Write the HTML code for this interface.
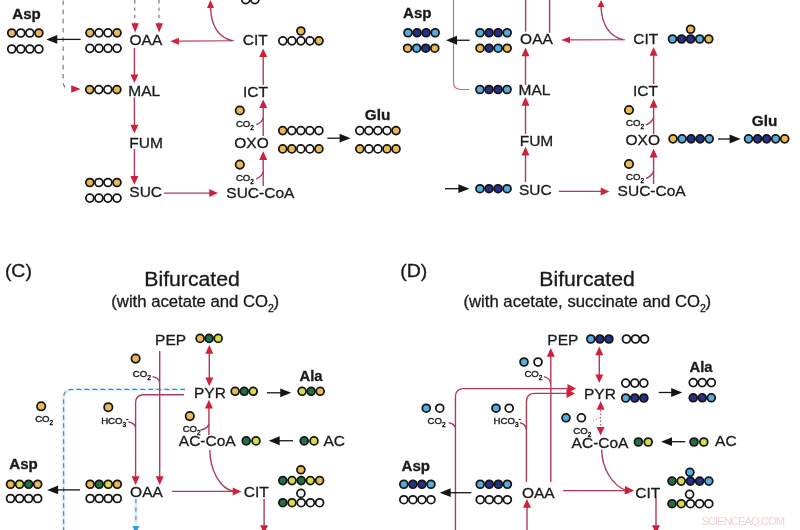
<!DOCTYPE html>
<html><head><meta charset="utf-8"><style>
html,body{margin:0;padding:0;background:#fff;width:800px;height:530px;overflow:hidden}
svg{display:block;will-change:transform;font-family:"Liberation Sans",sans-serif}
text{stroke:#1a1a1a;stroke-width:0.3px}
</style></head><body>
<svg width="800" height="530" viewBox="0 0 800 530">
<g stroke="#151515" stroke-width="1.75">
<circle cx="245.80" cy="-0.30" r="3.95" fill="#FFFFFF"/>
<circle cx="254.85" cy="-0.30" r="3.95" fill="#FFFFFF"/>
<circle cx="11.73" cy="33.00" r="3.95" fill="#E9B955"/>
<circle cx="20.78" cy="33.00" r="3.95" fill="#FFFFFF"/>
<circle cx="29.83" cy="33.00" r="3.95" fill="#FFFFFF"/>
<circle cx="38.88" cy="33.00" r="3.95" fill="#E9B955"/>
<circle cx="11.73" cy="49.00" r="3.95" fill="#FFFFFF"/>
<circle cx="20.78" cy="49.00" r="3.95" fill="#FFFFFF"/>
<circle cx="29.83" cy="49.00" r="3.95" fill="#FFFFFF"/>
<circle cx="38.88" cy="49.00" r="3.95" fill="#FFFFFF"/>
<circle cx="89.92" cy="32.80" r="3.95" fill="#E9B955"/>
<circle cx="98.97" cy="32.80" r="3.95" fill="#FFFFFF"/>
<circle cx="108.03" cy="32.80" r="3.95" fill="#FFFFFF"/>
<circle cx="117.08" cy="32.80" r="3.95" fill="#E9B955"/>
<circle cx="89.92" cy="48.30" r="3.95" fill="#FFFFFF"/>
<circle cx="98.97" cy="48.30" r="3.95" fill="#FFFFFF"/>
<circle cx="108.03" cy="48.30" r="3.95" fill="#FFFFFF"/>
<circle cx="117.08" cy="48.30" r="3.95" fill="#FFFFFF"/>
<circle cx="89.73" cy="89.60" r="3.95" fill="#E9B955"/>
<circle cx="98.78" cy="89.60" r="3.95" fill="#FFFFFF"/>
<circle cx="107.83" cy="89.60" r="3.95" fill="#FFFFFF"/>
<circle cx="116.88" cy="89.60" r="3.95" fill="#E9B955"/>
<circle cx="89.83" cy="182.50" r="3.95" fill="#E9B955"/>
<circle cx="98.88" cy="182.50" r="3.95" fill="#FFFFFF"/>
<circle cx="107.93" cy="182.50" r="3.95" fill="#FFFFFF"/>
<circle cx="116.98" cy="182.50" r="3.95" fill="#E9B955"/>
<circle cx="89.83" cy="198.10" r="3.95" fill="#FFFFFF"/>
<circle cx="98.88" cy="198.10" r="3.95" fill="#FFFFFF"/>
<circle cx="107.93" cy="198.10" r="3.95" fill="#FFFFFF"/>
<circle cx="116.98" cy="198.10" r="3.95" fill="#FFFFFF"/>
<circle cx="282.82" cy="40.80" r="3.95" fill="#FFFFFF"/>
<circle cx="291.88" cy="40.80" r="3.95" fill="#FFFFFF"/>
<circle cx="300.93" cy="40.80" r="3.95" fill="#FFFFFF"/>
<circle cx="309.97" cy="40.80" r="3.95" fill="#FFFFFF"/>
<circle cx="319.02" cy="40.80" r="3.95" fill="#E9B955"/>
<circle cx="300.90" cy="31.00" r="3.95" fill="#E9B955"/>
<circle cx="282.72" cy="130.60" r="3.95" fill="#E9B955"/>
<circle cx="291.77" cy="130.60" r="3.95" fill="#FFFFFF"/>
<circle cx="300.82" cy="130.60" r="3.95" fill="#FFFFFF"/>
<circle cx="309.87" cy="130.60" r="3.95" fill="#FFFFFF"/>
<circle cx="318.92" cy="130.60" r="3.95" fill="#FFFFFF"/>
<circle cx="282.72" cy="148.90" r="3.95" fill="#E9B955"/>
<circle cx="291.77" cy="148.90" r="3.95" fill="#E9B955"/>
<circle cx="300.82" cy="148.90" r="3.95" fill="#FFFFFF"/>
<circle cx="309.87" cy="148.90" r="3.95" fill="#FFFFFF"/>
<circle cx="318.92" cy="148.90" r="3.95" fill="#E9B955"/>
<circle cx="359.82" cy="130.60" r="3.95" fill="#FFFFFF"/>
<circle cx="368.88" cy="130.60" r="3.95" fill="#FFFFFF"/>
<circle cx="377.93" cy="130.60" r="3.95" fill="#FFFFFF"/>
<circle cx="386.97" cy="130.60" r="3.95" fill="#FFFFFF"/>
<circle cx="396.02" cy="130.60" r="3.95" fill="#E9B955"/>
<circle cx="359.82" cy="148.90" r="3.95" fill="#E9B955"/>
<circle cx="368.88" cy="148.90" r="3.95" fill="#FFFFFF"/>
<circle cx="377.93" cy="148.90" r="3.95" fill="#FFFFFF"/>
<circle cx="386.97" cy="148.90" r="3.95" fill="#E9B955"/>
<circle cx="396.02" cy="148.90" r="3.95" fill="#E9B955"/>
<circle cx="239.80" cy="110.50" r="4.2" fill="#E9B955"/>
<circle cx="239.80" cy="164.60" r="4.2" fill="#E9B955"/>
</g>
<text x="12.30" y="18.8" font-size="14.5" font-weight="bold" textLength="28.5" lengthAdjust="spacingAndGlyphs" fill="#1a1a1a">Asp</text>
<text x="364.80" y="119.8" font-size="14.5" font-weight="bold" textLength="25.5" lengthAdjust="spacingAndGlyphs" fill="#1a1a1a">Glu</text>
<text x="129.50" y="45.4" font-size="15.5" fill="#1a1a1a">OAA</text>
<text x="128.30" y="95.6" font-size="15.5" fill="#1a1a1a">MAL</text>
<text x="129.30" y="147.5" font-size="15.5" fill="#1a1a1a">FUM</text>
<text x="129.30" y="196.9" font-size="15.5" fill="#1a1a1a">SUC</text>
<text x="242.80" y="45.2" font-size="15.5" fill="#1a1a1a">CIT</text>
<text x="243.05" y="97" font-size="15.5" fill="#1a1a1a">ICT</text>
<text x="234.30" y="147.5" font-size="15.5" fill="#1a1a1a">OXO</text>
<text x="226.30" y="197.5" font-size="15.5" fill="#1a1a1a">SUC-CoA</text>
<text x="235.9" y="126.6" font-size="9.6" fill="#222" style="stroke-width:0.4px">CO<tspan font-size="6.5" dy="3">2</tspan></text>
<text x="235.9" y="180.6" font-size="9.6" fill="#222" style="stroke-width:0.4px">CO<tspan font-size="6.5" dy="3">2</tspan></text>
<line x1="134.8" y1="0" x2="134.8" y2="24" stroke="#7A6670" stroke-width="1.1" stroke-dasharray="3.4,4"/>
<polygon points="135.10,32.40 131.30,23.20 138.90,23.20" fill="#D0203A"/>
<line x1="159" y1="0" x2="159" y2="24" stroke="#7A6670" stroke-width="1.1" stroke-dasharray="3.4,4"/>
<polygon points="159.20,32.40 155.40,23.20 163.00,23.20" fill="#D0203A"/>
<path d="M63.1,0.4 L63.1,82 Q63.5,88 68.5,89" fill="none" stroke="#7A6670" stroke-width="1.1" stroke-dasharray="4.6,4.6"/>
<polygon points="80.60,89.00 71.20,92.75 71.20,85.25" fill="#D0203A"/>
<line x1="134.4" y1="47.9" x2="134.4" y2="77.00999999999999" stroke="#B03C58" stroke-width="1.4"/>
<polygon points="134.40,83.10 130.40,74.40 138.40,74.40" fill="#D0203A"/>
<line x1="134.4" y1="97.5" x2="134.4" y2="127.41" stroke="#B03C58" stroke-width="1.4"/>
<polygon points="134.40,133.50 130.40,124.80 138.40,124.80" fill="#D0203A"/>
<line x1="134.4" y1="149" x2="134.4" y2="178.66" stroke="#B03C58" stroke-width="1.4"/>
<polygon points="134.40,184.75 130.40,176.05 138.40,176.05" fill="#D0203A"/>
<line x1="164" y1="193.1" x2="211.91" y2="193.1" stroke="#B03C58" stroke-width="1.4"/>
<polygon points="218.00,193.10 209.30,197.10 209.30,189.10" fill="#D0203A"/>
<line x1="263.2" y1="186" x2="263.2" y2="157.34" stroke="#B03C58" stroke-width="1.4"/>
<polygon points="263.20,151.25 267.20,159.95 259.20,159.95" fill="#D0203A"/>
<line x1="263.2" y1="136" x2="263.2" y2="105.49000000000001" stroke="#B03C58" stroke-width="1.4"/>
<polygon points="263.20,99.40 267.20,108.10 259.20,108.10" fill="#D0203A"/>
<line x1="263.2" y1="85" x2="263.2" y2="54.489999999999995" stroke="#B03C58" stroke-width="1.4"/>
<polygon points="263.20,48.40 267.20,57.10 259.20,57.10" fill="#D0203A"/>
<line x1="234.1" y1="40.8" x2="176.28988068561685" y2="41.1618786811542" stroke="#B03C58" stroke-width="1.1"/>
<polygon points="170.20,41.20 178.88,37.65 178.92,44.65" fill="#D0203A"/>
<path d="M232,40.8 C218,37 211,25 210.5,7" fill="none" stroke="#B03C58" stroke-width="1.4"/>
<polygon points="210.50,0.00 214.00,8.00 207.00,8.00" fill="#D0203A"/>
<path d="M256.3,124.7 Q262.5,122 263.2,117.5" fill="none" stroke="#B03C58" stroke-width="1.4"/>
<path d="M256.3,179 Q262.5,176 263.2,171.5" fill="none" stroke="#B03C58" stroke-width="1.4"/>
<line x1="327.3" y1="138.2" x2="342.90000000000003" y2="138.2" stroke="#151515" stroke-width="1.3"/>
<polygon points="350.60,138.20 339.60,142.60 339.60,133.80" fill="#151515"/>
<line x1="80.6" y1="39.4" x2="53.95" y2="39.4" stroke="#151515" stroke-width="1.3"/>
<polygon points="46.25,39.40 57.25,35.00 57.25,43.80" fill="#151515"/>
<g stroke="#151515" stroke-width="1.75">
<circle cx="408.02" cy="32.75" r="3.95" fill="#55ACDF"/>
<circle cx="417.07" cy="32.75" r="3.95" fill="#253188"/>
<circle cx="426.12" cy="32.75" r="3.95" fill="#253188"/>
<circle cx="435.17" cy="32.75" r="3.95" fill="#55ACDF"/>
<circle cx="407.62" cy="48.20" r="3.95" fill="#E9B955"/>
<circle cx="416.68" cy="48.20" r="3.95" fill="#55ACDF"/>
<circle cx="425.73" cy="48.20" r="3.95" fill="#253188"/>
<circle cx="434.77" cy="48.20" r="3.95" fill="#E9B955"/>
<circle cx="480.02" cy="32.75" r="3.95" fill="#55ACDF"/>
<circle cx="489.07" cy="32.75" r="3.95" fill="#253188"/>
<circle cx="498.12" cy="32.75" r="3.95" fill="#253188"/>
<circle cx="507.17" cy="32.75" r="3.95" fill="#55ACDF"/>
<circle cx="480.02" cy="48.20" r="3.95" fill="#E9B955"/>
<circle cx="489.07" cy="48.20" r="3.95" fill="#253188"/>
<circle cx="498.12" cy="48.20" r="3.95" fill="#55ACDF"/>
<circle cx="507.17" cy="48.20" r="3.95" fill="#E9B955"/>
<circle cx="479.93" cy="89.50" r="3.95" fill="#55ACDF"/>
<circle cx="488.98" cy="89.50" r="3.95" fill="#253188"/>
<circle cx="498.03" cy="89.50" r="3.95" fill="#253188"/>
<circle cx="507.07" cy="89.50" r="3.95" fill="#55ACDF"/>
<circle cx="479.93" cy="188.70" r="3.95" fill="#55ACDF"/>
<circle cx="488.98" cy="188.70" r="3.95" fill="#253188"/>
<circle cx="498.03" cy="188.70" r="3.95" fill="#253188"/>
<circle cx="507.07" cy="188.70" r="3.95" fill="#55ACDF"/>
<circle cx="672.53" cy="39.00" r="3.95" fill="#55ACDF"/>
<circle cx="681.58" cy="39.00" r="3.95" fill="#253188"/>
<circle cx="690.63" cy="39.00" r="3.95" fill="#253188"/>
<circle cx="699.68" cy="39.00" r="3.95" fill="#55ACDF"/>
<circle cx="708.73" cy="39.00" r="3.95" fill="#E9B955"/>
<circle cx="690.60" cy="29.25" r="3.95" fill="#E9B955"/>
<circle cx="673.03" cy="138.80" r="3.95" fill="#E9B955"/>
<circle cx="682.08" cy="138.80" r="3.95" fill="#55ACDF"/>
<circle cx="691.13" cy="138.80" r="3.95" fill="#253188"/>
<circle cx="700.18" cy="138.80" r="3.95" fill="#253188"/>
<circle cx="709.23" cy="138.80" r="3.95" fill="#55ACDF"/>
<circle cx="748.53" cy="138.80" r="3.95" fill="#55ACDF"/>
<circle cx="757.58" cy="138.80" r="3.95" fill="#253188"/>
<circle cx="766.63" cy="138.80" r="3.95" fill="#253188"/>
<circle cx="775.68" cy="138.80" r="3.95" fill="#55ACDF"/>
<circle cx="784.73" cy="138.80" r="3.95" fill="#E9B955"/>
<circle cx="629.00" cy="110.00" r="4.2" fill="#E9B955"/>
<circle cx="629.00" cy="164.00" r="4.2" fill="#E9B955"/>
</g>
<text x="403.00" y="17.9" font-size="14.5" font-weight="bold" textLength="28.5" lengthAdjust="spacingAndGlyphs" fill="#1a1a1a">Asp</text>
<text x="751.80" y="126.1" font-size="14.5" font-weight="bold" textLength="25.5" lengthAdjust="spacingAndGlyphs" fill="#1a1a1a">Glu</text>
<text x="520.10" y="44" font-size="15.5" fill="#1a1a1a">OAA</text>
<text x="518.50" y="95.4" font-size="15.5" fill="#1a1a1a">MAL</text>
<text x="519.70" y="145.7" font-size="15.5" fill="#1a1a1a">FUM</text>
<text x="519.00" y="195.2" font-size="15.5" fill="#1a1a1a">SUC</text>
<text x="633.20" y="44" font-size="15.5" fill="#1a1a1a">CIT</text>
<text x="633.05" y="96" font-size="15.5" fill="#1a1a1a">ICT</text>
<text x="625.50" y="145.1" font-size="15.5" fill="#1a1a1a">OXO</text>
<text x="617.60" y="196.2" font-size="15.5" fill="#1a1a1a">SUC-CoA</text>
<text x="626.0" y="126" font-size="9.6" fill="#222" style="stroke-width:0.4px">CO<tspan font-size="6.5" dy="3">2</tspan></text>
<text x="626.0" y="179.6" font-size="9.6" fill="#222" style="stroke-width:0.4px">CO<tspan font-size="6.5" dy="3">2</tspan></text>
<line x1="525.6" y1="0" x2="525.6" y2="31.7" stroke="#B03C58" stroke-width="1.4"/>
<line x1="549.6" y1="0" x2="549.6" y2="32.8" stroke="#B03C58" stroke-width="1.4"/>
<path d="M453.5,0 L453.5,82 Q453.5,89.5 461,89.5 L469.4,89.5" fill="none" stroke="#C06878" stroke-width="1.1"/>
<line x1="525.5" y1="85" x2="525.5" y2="53.69" stroke="#B03C58" stroke-width="1.4"/>
<polygon points="525.50,47.60 529.50,56.30 521.50,56.30" fill="#D0203A"/>
<line x1="525.5" y1="134" x2="525.5" y2="103.09" stroke="#B03C58" stroke-width="1.4"/>
<polygon points="525.50,97.00 529.50,105.70 521.50,105.70" fill="#D0203A"/>
<line x1="525.5" y1="181.9" x2="525.5" y2="152.89000000000001" stroke="#B03C58" stroke-width="1.4"/>
<polygon points="525.50,146.80 529.50,155.50 521.50,155.50" fill="#D0203A"/>
<line x1="445" y1="188.7" x2="461.7" y2="188.7" stroke="#151515" stroke-width="1.3"/>
<polygon points="469.40,188.70 458.40,193.10 458.40,184.30" fill="#151515"/>
<line x1="558.9" y1="191.4" x2="603.31" y2="191.4" stroke="#B03C58" stroke-width="1.4"/>
<polygon points="609.40,191.40 600.70,195.40 600.70,187.40" fill="#D0203A"/>
<line x1="653.6" y1="184" x2="653.6" y2="154.79" stroke="#B03C58" stroke-width="1.4"/>
<polygon points="653.60,148.70 657.60,157.40 649.60,157.40" fill="#D0203A"/>
<line x1="653.6" y1="134" x2="653.6" y2="105.09" stroke="#B03C58" stroke-width="1.4"/>
<polygon points="653.60,99.00 657.60,107.70 649.60,107.70" fill="#D0203A"/>
<line x1="653.6" y1="84" x2="653.6" y2="53.19" stroke="#B03C58" stroke-width="1.4"/>
<polygon points="653.60,47.10 657.60,55.80 649.60,55.80" fill="#D0203A"/>
<line x1="625" y1="39.8" x2="567.3599924332644" y2="39.89034483944629" stroke="#B03C58" stroke-width="1.1"/>
<polygon points="561.20,39.90 569.99,36.64 570.01,43.14" fill="#D0203A"/>
<path d="M623,39.8 C609,36 602,25 601,7" fill="none" stroke="#B03C58" stroke-width="1.4"/>
<polygon points="601.00,0.00 604.50,7.00 597.50,7.00" fill="#D0203A"/>
<path d="M646,125 Q652.5,122 653.6,117.5" fill="none" stroke="#B03C58" stroke-width="1.4"/>
<path d="M646,178.5 Q652.5,175.5 653.6,171" fill="none" stroke="#B03C58" stroke-width="1.4"/>
<line x1="718" y1="139" x2="732.9" y2="139.0" stroke="#151515" stroke-width="1.3"/>
<polygon points="740.60,139.00 729.60,143.40 729.60,134.60" fill="#151515"/>
<line x1="469.7" y1="40.25" x2="453.7" y2="40.25" stroke="#151515" stroke-width="1.3"/>
<polygon points="446.00,40.25 457.00,35.85 457.00,44.65" fill="#151515"/>
<text x="4.90" y="277" font-size="17.5" textLength="27" lengthAdjust="spacingAndGlyphs" fill="#1a1a1a">(C)</text>
<text x="144.30" y="286.25" font-size="19.5" textLength="95.5" lengthAdjust="spacingAndGlyphs" fill="#1a1a1a">Bifurcated</text>
<text x="111.3" y="306.5" font-size="16.7" fill="#1a1a1a">(with acetate and CO<tspan font-size="10.5" dy="5">2</tspan><tspan dy="-5" dx="-0.3">)</tspan></text>
<text x="155.10" y="344.6" font-size="15.5" fill="#1a1a1a">PEP</text>
<text x="194.00" y="397.6" font-size="15.5" fill="#1a1a1a">PYR</text>
<text x="178.80" y="446.25" font-size="15.5" fill="#1a1a1a">AC-CoA</text>
<text x="323.50" y="446" font-size="15.5" fill="#1a1a1a">AC</text>
<text x="299.55" y="381" font-size="14.5" font-weight="bold" textLength="23" lengthAdjust="spacingAndGlyphs" fill="#1a1a1a">Ala</text>
<text x="9.30" y="468.8" font-size="14.5" font-weight="bold" textLength="28.5" lengthAdjust="spacingAndGlyphs" fill="#1a1a1a">Asp</text>
<text x="130.10" y="497.2" font-size="15.5" fill="#1a1a1a">OAA</text>
<text x="243.80" y="496.6" font-size="15.5" fill="#1a1a1a">CIT</text>
<text x="132.8" y="376.5" font-size="9.6" fill="#222" style="stroke-width:0.4px">CO<tspan font-size="6.5" dy="3">2</tspan></text>
<text x="35.199999999999996" y="421.8" font-size="9.6" fill="#222" style="stroke-width:0.4px">CO<tspan font-size="6.5" dy="3">2</tspan></text>
<text x="101.2" y="423.5" font-size="9.6" fill="#222" style="stroke-width:0.4px">HCO<tspan font-size="6.5" dy="3">3</tspan><tspan font-size="7" dy="-6">-</tspan></text>
<text x="182.70000000000002" y="431.8" font-size="9.6" fill="#222" style="stroke-width:0.4px">CO<tspan font-size="6.5" dy="3">2</tspan></text>
<g stroke="#151515" stroke-width="1.75">
<circle cx="200.07" cy="338.40" r="3.95" fill="#E9B955"/>
<circle cx="209.12" cy="338.40" r="3.95" fill="#236E42"/>
<circle cx="218.17" cy="338.40" r="3.95" fill="#D5DC48"/>
<circle cx="235.12" cy="391.30" r="3.95" fill="#E9B955"/>
<circle cx="244.18" cy="391.30" r="3.95" fill="#236E42"/>
<circle cx="253.22" cy="391.30" r="3.95" fill="#D5DC48"/>
<circle cx="302.07" cy="391.30" r="3.95" fill="#D5DC48"/>
<circle cx="311.12" cy="391.30" r="3.95" fill="#236E42"/>
<circle cx="320.18" cy="391.30" r="3.95" fill="#E9B955"/>
<circle cx="246.20" cy="440.90" r="3.95" fill="#236E42"/>
<circle cx="256.00" cy="440.90" r="3.95" fill="#D5DC48"/>
<circle cx="304.20" cy="440.90" r="3.95" fill="#236E42"/>
<circle cx="314.00" cy="440.90" r="3.95" fill="#D5DC48"/>
<circle cx="10.53" cy="484.25" r="3.95" fill="#E9B955"/>
<circle cx="19.58" cy="484.25" r="3.95" fill="#D5DC48"/>
<circle cx="28.62" cy="484.25" r="3.95" fill="#236E42"/>
<circle cx="37.68" cy="484.25" r="3.95" fill="#E9B955"/>
<circle cx="10.53" cy="498.50" r="3.95" fill="#FFFFFF"/>
<circle cx="19.58" cy="498.50" r="3.95" fill="#FFFFFF"/>
<circle cx="28.62" cy="498.50" r="3.95" fill="#FFFFFF"/>
<circle cx="37.68" cy="498.50" r="3.95" fill="#FFFFFF"/>
<circle cx="90.12" cy="484.25" r="3.95" fill="#E9B955"/>
<circle cx="99.17" cy="484.25" r="3.95" fill="#236E42"/>
<circle cx="108.22" cy="484.25" r="3.95" fill="#D5DC48"/>
<circle cx="117.28" cy="484.25" r="3.95" fill="#E9B955"/>
<circle cx="90.12" cy="498.50" r="3.95" fill="#FFFFFF"/>
<circle cx="99.17" cy="498.50" r="3.95" fill="#FFFFFF"/>
<circle cx="108.22" cy="498.50" r="3.95" fill="#FFFFFF"/>
<circle cx="117.28" cy="498.50" r="3.95" fill="#FFFFFF"/>
<circle cx="282.80" cy="480.60" r="3.95" fill="#236E42"/>
<circle cx="292.00" cy="480.60" r="3.95" fill="#D5DC48"/>
<circle cx="301.20" cy="480.60" r="3.95" fill="#236E42"/>
<circle cx="310.40" cy="480.60" r="3.95" fill="#D5DC48"/>
<circle cx="319.60" cy="480.60" r="3.95" fill="#E9B955"/>
<circle cx="300.90" cy="469.80" r="3.95" fill="#E9B955"/>
<circle cx="282.80" cy="502.70" r="3.95" fill="#236E42"/>
<circle cx="292.00" cy="502.70" r="3.95" fill="#D5DC48"/>
<circle cx="301.20" cy="502.70" r="3.95" fill="#FFFFFF"/>
<circle cx="310.40" cy="502.70" r="3.95" fill="#FFFFFF"/>
<circle cx="319.60" cy="502.70" r="3.95" fill="#FFFFFF"/>
<circle cx="300.90" cy="493.40" r="3.95" fill="#FFFFFF"/>
<circle cx="135.60" cy="358.60" r="4.2" fill="#E9B955"/>
<circle cx="41.20" cy="406.30" r="4.2" fill="#E9B955"/>
<circle cx="108.30" cy="407.20" r="4.2" fill="#E9B955"/>
<circle cx="189.80" cy="416.10" r="4.2" fill="#E9B955"/>
</g>
<path d="M185,389.4 L72,389.4 Q63.6,389.4 63.6,398 L63.6,530" fill="none" stroke="#DDF0F9" stroke-width="3.0"/>
<path d="M185,389.4 L72,389.4 Q63.6,389.4 63.6,398 L63.6,530" fill="none" stroke="#68849A" stroke-width="1.2" stroke-dasharray="4.5,3.5"/>
<line x1="135.9" y1="499" x2="135.9" y2="526" stroke="#DDF0F9" stroke-width="3.0"/>
<line x1="135.9" y1="499" x2="135.9" y2="522" stroke="#68849A" stroke-width="1.2" stroke-dasharray="4,4.6"/>
<polygon points="135.90,534.00 132.40,526.00 139.40,526.00" fill="#3A9ADA"/>
<line x1="159.7" y1="351" x2="159.7" y2="478.91" stroke="#B03C58" stroke-width="1.4"/>
<polygon points="159.70,485.00 155.70,476.30 163.70,476.30" fill="#D0203A"/>
<path d="M152.5,376.6 Q158.5,377.5 159.7,382.5" fill="none" stroke="#B03C58" stroke-width="1.4"/>
<line x1="209.3" y1="366" x2="209.3" y2="351.09" stroke="#B03C58" stroke-width="1.4"/>
<polygon points="209.30,345.00 213.30,353.70 205.30,353.70" fill="#D0203A"/>
<line x1="209.3" y1="366" x2="209.3" y2="380.16" stroke="#B03C58" stroke-width="1.4"/>
<polygon points="209.30,386.25 205.30,377.55 213.30,377.55" fill="#D0203A"/>
<path d="M184,394.8 L143.8,394.8 Q135.6,394.8 135.6,403 L135.6,478" fill="none" stroke="#B03C58" stroke-width="1.4"/>
<polygon points="135.60,485.00 131.60,476.30 139.60,476.30" fill="#D0203A"/>
<path d="M128.4,421.7 Q134,423 135.6,427" fill="none" stroke="#B03C58" stroke-width="1.4"/>
<line x1="208.9" y1="435" x2="208.9" y2="405.89" stroke="#B03C58" stroke-width="1.4"/>
<polygon points="208.90,399.80 212.90,408.50 204.90,408.50" fill="#D0203A"/>
<path d="M200.5,430 Q207.5,429 208.9,423.7" fill="none" stroke="#B03C58" stroke-width="1.4"/>
<path d="M209.8,450 C210,470 220,489 234,491.4" fill="none" stroke="#B03C58" stroke-width="1.4"/>
<line x1="171.9" y1="491.4" x2="235.31" y2="491.4" stroke="#B03C58" stroke-width="1.4"/>
<polygon points="241.40,491.40 232.70,495.40 232.70,487.40" fill="#D0203A"/>
<line x1="264.1" y1="499" x2="264.1" y2="527.91" stroke="#B03C58" stroke-width="1.4"/>
<polygon points="264.10,534.00 260.10,525.30 268.10,525.30" fill="#D0203A"/>
<line x1="266.9" y1="392.8" x2="283.55" y2="392.8" stroke="#151515" stroke-width="1.3"/>
<polygon points="291.25,392.80 280.25,397.20 280.25,388.40" fill="#151515"/>
<line x1="293" y1="440.75" x2="276.4" y2="440.75" stroke="#151515" stroke-width="1.3"/>
<polygon points="268.70,440.75 279.70,436.35 279.70,445.15" fill="#151515"/>
<line x1="80" y1="489.9" x2="54.8" y2="489.9" stroke="#151515" stroke-width="1.3"/>
<polygon points="47.10,489.90 58.10,485.50 58.10,494.30" fill="#151515"/>
<text x="400.30" y="277" font-size="17.5" textLength="27" lengthAdjust="spacingAndGlyphs" fill="#1a1a1a">(D)</text>
<text x="539.30" y="286.25" font-size="19.5" textLength="95.5" lengthAdjust="spacingAndGlyphs" fill="#1a1a1a">Bifurcated</text>
<text x="463.5" y="306.5" font-size="16.7" fill="#1a1a1a">(with acetate, succinate and CO<tspan font-size="10.5" dy="5">2</tspan><tspan dy="-5" dx="-0.3">)</tspan></text>
<text x="547.30" y="345" font-size="15.5" fill="#1a1a1a">PEP</text>
<text x="584.00" y="399" font-size="15.5" fill="#1a1a1a">PYR</text>
<text x="571.60" y="448" font-size="15.5" fill="#1a1a1a">AC-CoA</text>
<text x="715.05" y="445.75" font-size="15.5" fill="#1a1a1a">AC</text>
<text x="689.55" y="371.5" font-size="14.5" font-weight="bold" textLength="23" lengthAdjust="spacingAndGlyphs" fill="#1a1a1a">Ala</text>
<text x="401.60" y="471.25" font-size="14.5" font-weight="bold" textLength="28.5" lengthAdjust="spacingAndGlyphs" fill="#1a1a1a">Asp</text>
<text x="521.90" y="498" font-size="15.5" fill="#1a1a1a">OAA</text>
<text x="635.30" y="497.6" font-size="15.5" fill="#1a1a1a">CIT</text>
<text x="524.4" y="377.2" font-size="9.6" fill="#222" style="stroke-width:0.4px">CO<tspan font-size="6.5" dy="3">2</tspan></text>
<text x="427.59999999999997" y="424.25" font-size="9.6" fill="#222" style="stroke-width:0.4px">CO<tspan font-size="6.5" dy="3">2</tspan></text>
<text x="493.59999999999997" y="424.25" font-size="9.6" fill="#222" style="stroke-width:0.4px">HCO<tspan font-size="6.5" dy="3">3</tspan><tspan font-size="7" dy="-6">-</tspan></text>
<text x="573.3" y="433.6" font-size="9.6" fill="#222" style="stroke-width:0.4px">CO<tspan font-size="6.5" dy="3">2</tspan></text>
<g stroke="#151515" stroke-width="1.75">
<circle cx="590.83" cy="339.00" r="3.95" fill="#55ACDF"/>
<circle cx="599.88" cy="339.00" r="3.95" fill="#253188"/>
<circle cx="608.93" cy="339.00" r="3.95" fill="#253188"/>
<circle cx="626.43" cy="339.00" r="3.95" fill="#FFFFFF"/>
<circle cx="635.48" cy="339.00" r="3.95" fill="#FFFFFF"/>
<circle cx="644.53" cy="339.00" r="3.95" fill="#FFFFFF"/>
<circle cx="625.73" cy="383.10" r="3.95" fill="#FFFFFF"/>
<circle cx="634.77" cy="383.10" r="3.95" fill="#FFFFFF"/>
<circle cx="643.83" cy="383.10" r="3.95" fill="#FFFFFF"/>
<circle cx="625.73" cy="398.00" r="3.95" fill="#55ACDF"/>
<circle cx="634.77" cy="398.00" r="3.95" fill="#253188"/>
<circle cx="643.83" cy="398.00" r="3.95" fill="#253188"/>
<circle cx="693.23" cy="382.60" r="3.95" fill="#FFFFFF"/>
<circle cx="702.27" cy="382.60" r="3.95" fill="#FFFFFF"/>
<circle cx="711.33" cy="382.60" r="3.95" fill="#FFFFFF"/>
<circle cx="693.23" cy="397.80" r="3.95" fill="#253188"/>
<circle cx="702.27" cy="397.80" r="3.95" fill="#253188"/>
<circle cx="711.33" cy="397.80" r="3.95" fill="#55ACDF"/>
<circle cx="638.40" cy="442.00" r="3.95" fill="#236E42"/>
<circle cx="648.20" cy="442.00" r="3.95" fill="#D5DC48"/>
<circle cx="694.00" cy="442.00" r="3.95" fill="#236E42"/>
<circle cx="703.80" cy="442.00" r="3.95" fill="#D5DC48"/>
<circle cx="403.82" cy="484.25" r="3.95" fill="#55ACDF"/>
<circle cx="412.88" cy="484.25" r="3.95" fill="#253188"/>
<circle cx="421.93" cy="484.25" r="3.95" fill="#253188"/>
<circle cx="430.97" cy="484.25" r="3.95" fill="#55ACDF"/>
<circle cx="403.82" cy="499.70" r="3.95" fill="#FFFFFF"/>
<circle cx="412.88" cy="499.70" r="3.95" fill="#FFFFFF"/>
<circle cx="421.93" cy="499.70" r="3.95" fill="#FFFFFF"/>
<circle cx="430.97" cy="499.70" r="3.95" fill="#FFFFFF"/>
<circle cx="480.22" cy="484.25" r="3.95" fill="#55ACDF"/>
<circle cx="489.27" cy="484.25" r="3.95" fill="#253188"/>
<circle cx="498.32" cy="484.25" r="3.95" fill="#253188"/>
<circle cx="507.37" cy="484.25" r="3.95" fill="#55ACDF"/>
<circle cx="480.22" cy="499.70" r="3.95" fill="#FFFFFF"/>
<circle cx="489.27" cy="499.70" r="3.95" fill="#FFFFFF"/>
<circle cx="498.32" cy="499.70" r="3.95" fill="#FFFFFF"/>
<circle cx="507.37" cy="499.70" r="3.95" fill="#FFFFFF"/>
<circle cx="672.00" cy="481.10" r="3.95" fill="#236E42"/>
<circle cx="681.20" cy="481.10" r="3.95" fill="#D5DC48"/>
<circle cx="690.40" cy="481.10" r="3.95" fill="#253188"/>
<circle cx="699.60" cy="481.10" r="3.95" fill="#253188"/>
<circle cx="708.80" cy="481.10" r="3.95" fill="#55ACDF"/>
<circle cx="689.90" cy="472.30" r="3.95" fill="#55ACDF"/>
<circle cx="672.00" cy="503.70" r="3.95" fill="#236E42"/>
<circle cx="681.20" cy="503.70" r="3.95" fill="#D5DC48"/>
<circle cx="690.40" cy="503.70" r="3.95" fill="#FFFFFF"/>
<circle cx="699.60" cy="503.70" r="3.95" fill="#FFFFFF"/>
<circle cx="708.80" cy="503.70" r="3.95" fill="#FFFFFF"/>
<circle cx="689.60" cy="494.30" r="3.95" fill="#FFFFFF"/>
<circle cx="524.00" cy="362.00" r="3.95" fill="#55ACDF"/>
<circle cx="538.00" cy="362.00" r="3.95" fill="#FFFFFF"/>
<circle cx="426.25" cy="408.20" r="3.95" fill="#55ACDF"/>
<circle cx="439.75" cy="408.20" r="3.95" fill="#FFFFFF"/>
<circle cx="496.00" cy="408.20" r="3.95" fill="#55ACDF"/>
<circle cx="509.20" cy="408.20" r="3.95" fill="#FFFFFF"/>
<circle cx="566.00" cy="417.80" r="3.95" fill="#55ACDF"/>
<circle cx="581.40" cy="417.80" r="3.95" fill="#FFFFFF"/>
</g>
<path d="M455.45,530 L455.45,397 Q455.45,388.6 463.8,388.6 L569,388.6" fill="none" stroke="#B03C58" stroke-width="1.4"/>
<polygon points="576.00,388.60 567.50,393.10 567.50,384.10" fill="#D0203A"/>
<path d="M526.4,482 L526.4,401.8 Q526.4,393.4 534.8,393.4 L568,393.4" fill="none" stroke="#B03C58" stroke-width="1.4"/>
<polygon points="575.00,393.40 566.50,397.90 566.50,388.90" fill="#D0203A"/>
<line x1="550.8" y1="482" x2="550.8" y2="354.09" stroke="#B03C58" stroke-width="1.4"/>
<polygon points="550.80,348.00 554.80,356.70 546.80,356.70" fill="#D0203A"/>
<line x1="527" y1="534" x2="527.0" y2="505.09" stroke="#B03C58" stroke-width="1.4"/>
<polygon points="527.00,499.00 531.00,507.70 523.00,507.70" fill="#D0203A"/>
<line x1="563" y1="490.6" x2="627.91" y2="490.6" stroke="#B03C58" stroke-width="1.4"/>
<polygon points="634.00,490.60 625.30,494.60 625.30,486.60" fill="#D0203A"/>
<line x1="599.3" y1="365" x2="599.3" y2="352.69" stroke="#B03C58" stroke-width="1.4"/>
<polygon points="599.30,346.60 603.30,355.30 595.30,355.30" fill="#D0203A"/>
<line x1="599.3" y1="365" x2="599.3" y2="377.01000000000005" stroke="#B03C58" stroke-width="1.4"/>
<polygon points="599.30,383.10 595.30,374.40 603.30,374.40" fill="#D0203A"/>
<polygon points="600.60,401.00 604.60,409.70 596.60,409.70" fill="#D0203A"/>
<polygon points="600.60,435.60 596.60,426.90 604.60,426.90" fill="#D0203A"/>
<line x1="600.6" y1="410" x2="600.6" y2="428" stroke="#B03C58" stroke-width="1.0" stroke-dasharray="1.5,2"/>
<path d="M601.6,449.5 C602,468 612,486 627,490.6" fill="none" stroke="#B03C58" stroke-width="1.4"/>
<polygon points="633.50,490.80 624.48,494.03 625.18,486.06" fill="#D0203A"/>
<line x1="658.75" y1="392.5" x2="674.5" y2="392.5" stroke="#151515" stroke-width="1.3"/>
<polygon points="682.20,392.50 671.20,396.90 671.20,388.10" fill="#151515"/>
<line x1="685.3" y1="441.7" x2="668.7" y2="441.7" stroke="#151515" stroke-width="1.3"/>
<polygon points="661.00,441.70 672.00,437.30 672.00,446.10" fill="#151515"/>
<line x1="471.4" y1="492.7" x2="447.4" y2="492.7" stroke="#151515" stroke-width="1.3"/>
<polygon points="439.70,492.70 450.70,488.30 450.70,497.10" fill="#151515"/>
<line x1="656" y1="498" x2="656.0" y2="527.91" stroke="#B03C58" stroke-width="1.4"/>
<polygon points="656.00,534.00 652.00,525.30 660.00,525.30" fill="#D0203A"/>
<path d="M544,376.6 Q549.5,378 550.8,383" fill="none" stroke="#B03C58" stroke-width="1.4"/>
<path d="M448.75,422.75 Q454,423.5 455.45,427.5" fill="none" stroke="#B03C58" stroke-width="1.4"/>
<path d="M520,422.75 Q525.5,424 526.4,429.5" fill="none" stroke="#B03C58" stroke-width="1.4"/>
<path d="M593,421 Q597,419 600.6,417" fill="none" stroke="#B04060" stroke-width="1.0" stroke-dasharray="1,2"/>
<text x="701.5" y="525" font-size="11.2" fill="#F2D0D4" style="stroke:none" textLength="83.5" lengthAdjust="spacing">SCIENCEAQ.COM</text>
</svg>
</body></html>
